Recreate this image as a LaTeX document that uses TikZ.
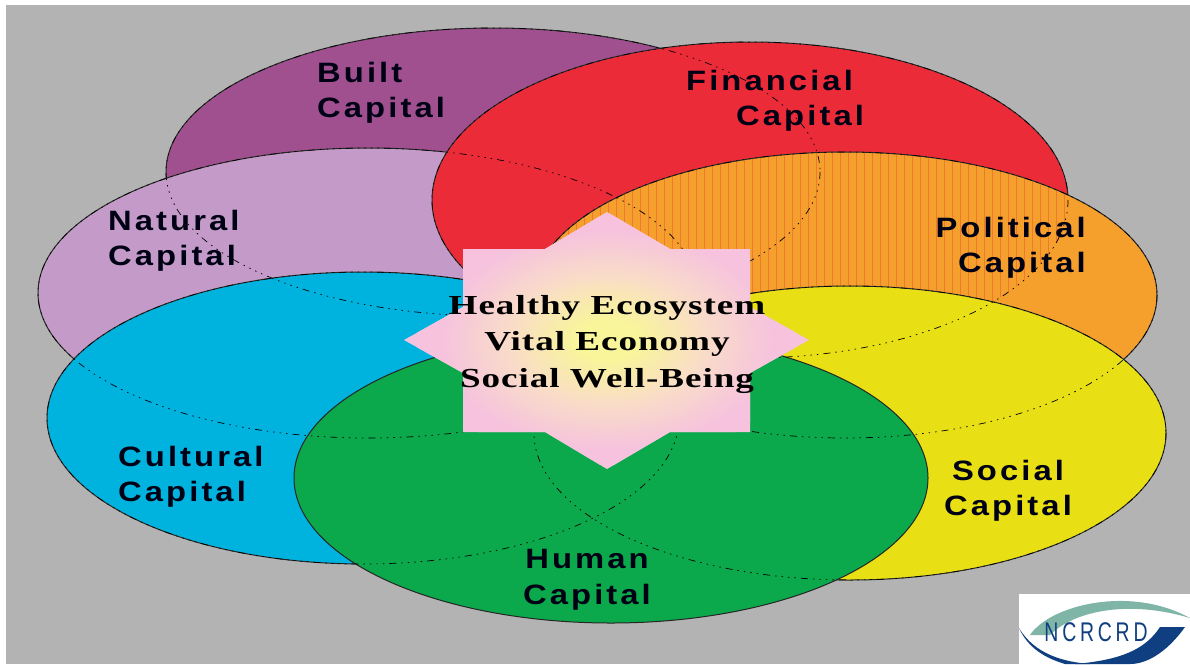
\documentclass[tikz,border=0pt]{standalone}
\usepackage{fontspec}
\usetikzlibrary{patterns.meta}
\setmainfont{Liberation Sans}
\newfontfamily\serifb[FakeStretch=1.35,LetterSpace=3.5]{Liberation Serif}
\newfontfamily\lab[FakeStretch=1.17,LetterSpace=11]{Liberation Sans}
\newfontfamily\logofont[FakeStretch=0.72,LetterSpace=14]{Liberation Sans}
\definecolor{bgc}{HTML}{B3B3B3}
\definecolor{cbuilt}{HTML}{A0508F}
\definecolor{cnat}{HTML}{C49BC8}
\definecolor{cfin}{HTML}{EC2B38}
\definecolor{cpol}{HTML}{F5A02C}
\definecolor{csoc}{HTML}{E8E014}
\definecolor{ccul}{HTML}{00B2DE}
\definecolor{chum}{HTML}{0BA84C}
\definecolor{cpink}{HTML}{F6C2DE}
\definecolor{cmid}{HTML}{F9DCC8}
\definecolor{cyel}{HTML}{F8F59A}
\definecolor{tealc}{HTML}{7FB5A6}
\definecolor{navyc}{HTML}{0F3F80}
\pgfdeclareradialshading{starglow}{\pgfpointorigin}{color(0bp)=(cyel); color(4bp)=(cyel); color(13bp)=(cmid); color(22bp)=(cpink); color(50bp)=(cpink)}
\tikzset{
  blob/.style={draw=black!85,line width=1pt},
  hidden/.style={draw=black,line width=0.7pt,dash pattern=on 7pt off 5pt on 1.5pt off 5pt on 1.5pt off 5pt on 1.5pt off 5pt on 1.5pt off 5pt},
  caplabel/.style={font=\lab\bfseries\fontsize{28}{35.5}\selectfont,text=black!92!blue,inner sep=0pt},
  centrelabel/.style={font=\serifb\bfseries\fontsize{27.5}{36.5}\selectfont,align=center,text=black,inner sep=0pt},
  hatchorange/.style={pattern={Lines[angle=90,distance=8pt,line width=0.25pt]},pattern color=cfin!35!cpol}
}
\begin{document}
\begin{tikzpicture}[x=1pt,y=-1pt]
\useasboundingbox (0,0) rectangle (1190,664);
\fill[white] (0,0) rectangle (1190,664);
\fill[bgc] (6,5) rectangle (1190,664);
% ellipses, back to front
\def\eBuilt{(493,172) ellipse [x radius=327,y radius=144]}
\def\eFin{(750,200) ellipse [x radius=318,y radius=158]}
\def\eNat{(368,293) ellipse [x radius=330,y radius=145]}
\def\ePol{(845,295) ellipse [x radius=312,y radius=143]}
\def\eCul{(363,418) ellipse [x radius=316,y radius=146]}
\def\eSoc{(850,433) ellipse [x radius=316,y radius=147]}
\def\eHum{(611,478) ellipse [x radius=317,y radius=145]}
\filldraw[blob,fill=cbuilt] \eBuilt;
\filldraw[blob,fill=cnat] \eNat;
\filldraw[blob,fill=cfin] \eFin;
\fill[cpol] \ePol;
\begin{scope}
\clip \eFin;
\fill[hatchorange] \ePol;
\end{scope}
\draw[blob] \ePol;
\filldraw[blob,fill=csoc] \eSoc;
\filldraw[blob,fill=ccul] \eCul;
\filldraw[blob,fill=chum] \eHum;
\draw[hidden] \eBuilt;
\draw[hidden] \eNat;
\draw[hidden] \eFin;
\draw[hidden] \ePol;
\draw[hidden] \eCul;
\draw[hidden] \eSoc;
% star
\def\starpath{(607,212) -- (670,249) -- (750,249) -- (750,307) -- (809,340) -- (750,373) -- (750,432) -- (670,432) -- (607,469) -- (545,432) -- (463,432) -- (463,373) -- (404,340) -- (463,307) -- (463,249) -- (545,249) -- cycle}
\fill[cpink] \starpath;
\begin{scope}
\clip \starpath;
\shade[shading=starglow] (607,340) ellipse [x radius=190,y radius=125];
\end{scope}
\node[centrelabel] (centre) at (607,344) {Healthy Ecosystem\\Vital Economy\\Social Well-Being};
% labels
\node[caplabel,align=left,anchor=west] (built) at (317,93) {Built\\Capital};
\node[caplabel,align=left,anchor=west] (fin) at (686,101) {Financial\\\hspace*{50pt}Capital};
\node[caplabel,align=left,anchor=west] (nat) at (108,241) {Natural\\Capital};
\node[caplabel,align=right,anchor=east] (pol) at (1086,248) {Political\\Capital};
\node[caplabel,align=left,anchor=west] (cul) at (118,477) {Cultural\\Capital};
\node[caplabel,align=center] (soc) at (1008,491) {Social\\Capital};
\node[caplabel,align=center] (hum) at (587,580) {Human\\Capital};
% logo
\fill[white] (1019,594) rectangle (1190,664);
\fill[tealc] (1030,635) .. controls (1050,605) and (1130,585) .. (1190,618) .. controls (1130,600) and (1075,610) .. (1050,635) -- cycle;
\fill[navyc] (1019,628) .. controls (1035,655) and (1065,662) .. (1090,664) -- (1065,664) .. controls (1045,658) and (1028,648) .. (1019,628) -- cycle;
\fill[navyc] (1075,664) .. controls (1120,660) and (1145,650) .. (1160,627) -- (1185,627) .. controls (1170,648) and (1150,664) .. (1130,664) -- cycle;
\node[font=\logofont\fontsize{27}{30}\selectfont,text=navyc,inner sep=0pt] (logo) at (1096,632) {NCRCRD};
\end{tikzpicture}
\end{document}
